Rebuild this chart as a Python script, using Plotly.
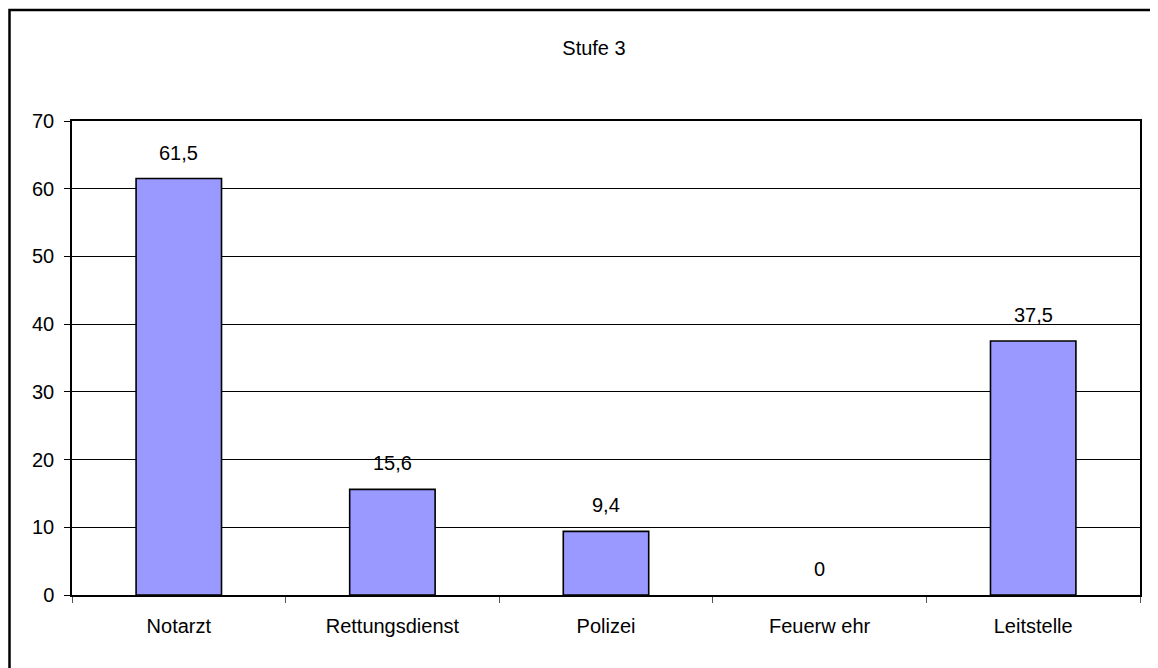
import plotly.graph_objects as go

categories = ["Notarzt", "Rettungsdienst", "Polizei", "Feuerw ehr", "Leitstelle"]
values = [61.5, 15.6, 9.4, 0, 37.5]
value_labels = ["61,5", "15,6", "9,4", "0", "37,5"]
y_ticks = [0, 10, 20, 30, 40, 50, 60, 70]

# page body has an 8px margin: layout coords = screen coords - 8
OFF = 8
W, H = 1158 - OFF, 668 - OFF
L, R, T, B = 72 - OFF, 1140 - OFF, 121 - OFF, 595 - OFF
FONT = "Liberation Sans, Arial"

fig = go.Figure()
fig.add_trace(go.Bar(
    x=categories, y=values, width=0.4,
    marker=dict(color="#9999FF",
                line=dict(color="black", width=[1.6 if v > 0 else 0 for v in values])),
    hoverinfo="skip",
))

for c, v, t in zip(categories, values, value_labels):
    fig.add_annotation(x=c, y=v, text=t, showarrow=False, yshift=26,
                       font=dict(family=FONT, size=20, color="black"))

def px_x(p):
    return (p - OFF - L) / (R - L)

def px_y(p):
    return (B - (p - OFF)) / (B - T)

fig.add_shape(type="rect", xref="paper", yref="paper",
              x0=px_x(9.5), x1=px_x(1175), y0=px_y(700), y1=px_y(10),
              line=dict(color="black", width=2.5), fillcolor="rgba(0,0,0,0)", layer="above")

fig.update_layout(
    width=W, height=H,
    margin=dict(l=L, r=W - R, t=T, b=H - B),
    paper_bgcolor="white", plot_bgcolor="white",
    font=dict(family=FONT, size=20, color="black"),
    title=dict(text="Stufe 3", x=(594 - OFF) / W, xanchor="center", xref="container",
               y=1 - (48 - OFF) / H, yanchor="middle", yref="container",
               font=dict(size=20)),
    showlegend=False,
)
fig.update_xaxes(
    showline=True, linecolor="black", linewidth=1.5, mirror=True,
    ticks="outside", tickson="boundaries", ticklen=6, tickcolor="#555555", tickwidth=1,
    showgrid=False, tickfont=dict(size=20), ticklabelstandoff=12,
)
fig.update_yaxes(
    range=[0, 70], tickvals=y_ticks,
    showline=True, linecolor="black", linewidth=1.5, mirror=True,
    ticks="outside", ticklen=6, tickcolor="black",
    showgrid=True, gridcolor="black", gridwidth=1, zeroline=False,
    tickfont=dict(size=20), ticklabelstandoff=6,
)

fig.write_html("out.html")
